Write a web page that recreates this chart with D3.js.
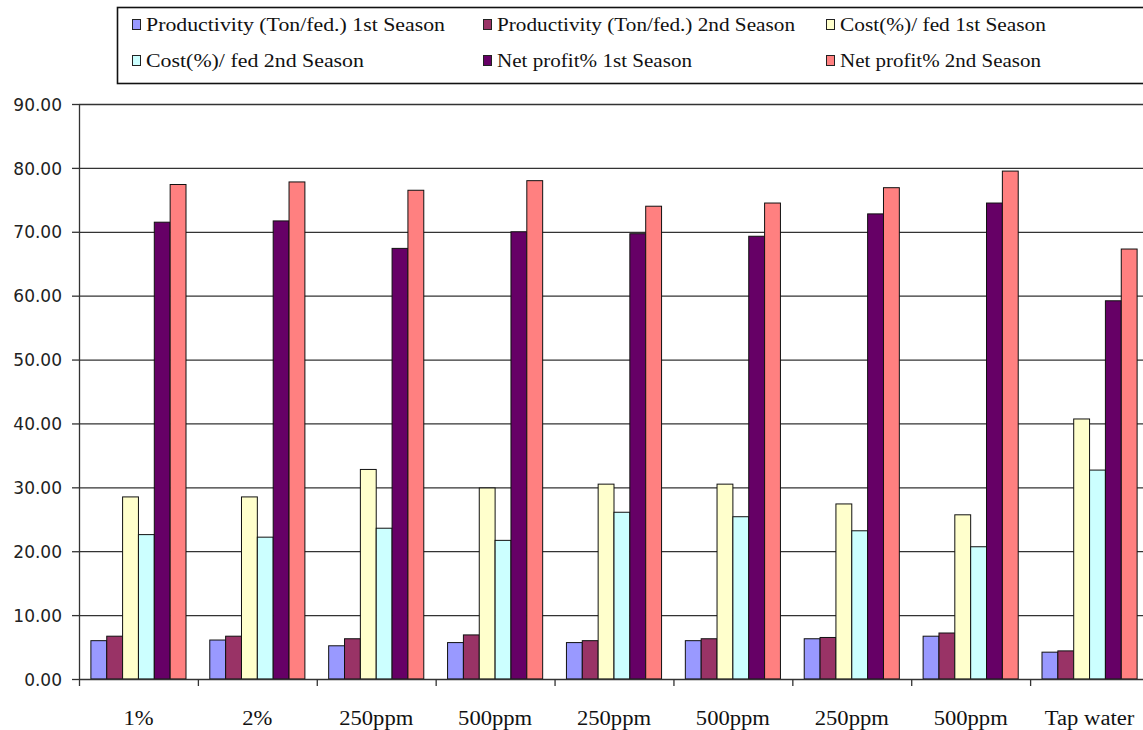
<!DOCTYPE html>
<html>
<head>
<meta charset="utf-8">
<script src="https://cdn.jsdelivr.net/npm/d3@7/dist/d3.min.js"></script>
<style>
html,body{margin:0;padding:0;background:#fff;}
svg{display:block;}
</style>
</head>
<body>
<svg id="chart" width="1143" height="730"></svg>
<script>
const categories = ["1%", "2%", "250ppm", "500ppm", "250ppm", "500ppm", "250ppm", "500ppm", "Tap water"];
const seriesNames = [
  "Productivity (Ton/fed.) 1st Season",
  "Productivity (Ton/fed.) 2nd Season",
  "Cost(%)/ fed 1st Season",
  "Cost(%)/ fed 2nd Season",
  "Net profit% 1st Season",
  "Net profit% 2nd Season"
];
const prod1 = [6.0, 6.1, 5.2, 5.7, 5.7, 6.0, 6.3, 6.7, 4.2];
const prod2 = [6.7, 6.7, 6.3, 6.9, 6.0, 6.3, 6.5, 7.2, 4.4];
const cost1 = [28.5, 28.5, 32.8, 29.9, 30.5, 30.5, 27.4, 25.7, 40.7];
const cost2 = [22.6, 22.2, 23.6, 21.7, 26.1, 25.4, 23.2, 20.7, 32.7];
const net1  = [71.5, 71.7, 67.4, 70.0, 69.7, 69.3, 72.8, 74.5, 59.2];
const net2  = [77.4, 77.8, 76.5, 78.0, 74.0, 74.5, 76.9, 79.5, 67.3];
const yTicks = [0, 10, 20, 30, 40, 50, 60, 70, 80, 90];

const seriesValues = [prod1, prod2, cost1, cost2, net1, net2];
const colors = ["#9999FF", "#993366", "#FFFFCC", "#CCFFFF", "#660066", "#FF8080"];

const svg = d3.select("#chart");
const mLeft = 79, mRight = 1149, mTop = 104, mBottom = 679;

const idx = categories.map((c, i) => i);
const x0 = d3.scaleBand().domain(idx).range([mLeft, mRight]).paddingInner(0).paddingOuter(0);
const bw = x0.bandwidth();
const x1 = d3.scaleBand().domain(d3.range(seriesNames.length)).range([bw * 0.1, bw * 0.9]).padding(0);
const y = d3.scaleLinear().domain([0, 90]).range([mBottom, mTop]);

// gridlines
svg.append("g").selectAll("line").data(yTicks.filter(t => t > 0)).join("line")
  .attr("x1", mLeft).attr("x2", 1143)
  .attr("y1", d => y(d) + 0.5).attr("y2", d => y(d) + 0.5)
  .attr("stroke", "#333").attr("stroke-width", 1.3);

// bars
const groups = svg.append("g").selectAll("g").data(idx).join("g")
  .attr("transform", i => `translate(${x0(i)},0)`);
groups.selectAll("rect").data(i => seriesValues.map((s, k) => ({k, v: s[i]}))).join("rect")
  .attr("x", d => x1(d.k))
  .attr("width", x1.bandwidth())
  .attr("y", d => y(d.v))
  .attr("height", d => y(0) - y(d.v))
  .attr("fill", d => colors[d.k])
  .attr("stroke", "#111").attr("stroke-width", 1);

// y axis
const yAxis = d3.axisLeft(y).tickValues(yTicks).tickSize(7).tickFormat(d3.format(".2f"));
const gy = svg.append("g").attr("transform", `translate(${mLeft},0)`).call(yAxis);
gy.select(".domain").attr("stroke", "#333").attr("stroke-width", 1.3).attr("d", `M0.5,${mTop}V${mBottom + 7}`);
gy.selectAll(".tick line").attr("stroke", "#333").attr("stroke-width", 1.3);
gy.selectAll(".tick text").attr("x", -17).attr("dy", "0.36em")
  .style("font-family", "'DejaVu Sans', Verdana, sans-serif").style("font-size", "17px").attr("fill", "#222");

// x axis
const xAxis = d3.axisBottom(x0).tickSize(0).tickFormat(i => categories[i]);
const gx = svg.append("g").attr("transform", `translate(0,${mBottom})`).call(xAxis);
gx.select(".domain").attr("stroke", "#333").attr("stroke-width", 1.3).attr("d", `M${mLeft},0.5H1143`);
gx.selectAll(".tick text").attr("y", 0).attr("dy", "46px")
  .style("font-family", "'Liberation Serif', 'Times New Roman', serif").style("font-size", "20px").attr("fill", "#111")
  .each(function () {
    const w = this.getComputedTextLength();
    d3.select(this).attr("textLength", w * 1.13).attr("lengthAdjust", "spacingAndGlyphs");
  });
// category boundary ticks
svg.append("g").selectAll("line").data(idx.slice(1)).join("line")
  .attr("x1", i => x0(i) + 0.5).attr("x2", i => x0(i) + 0.5)
  .attr("y1", mBottom).attr("y2", mBottom + 7)
  .attr("stroke", "#333").attr("stroke-width", 1.3);

// legend
const leg = svg.append("g");
leg.append("rect").attr("x", 117.5).attr("y", 7.5).attr("width", 1100).attr("height", 76)
  .attr("fill", "#fff").attr("stroke", "#111").attr("stroke-width", 1.6);
const legPos = [
  {sx: 132, ty: 25, w: 299},
  {sx: 483, ty: 25, w: 298},
  {sx: 826, ty: 25, w: 206},
  {sx: 132, ty: 61, w: 218},
  {sx: 483, ty: 61, w: 195},
  {sx: 826, ty: 61, w: 201}
];
const li = leg.selectAll("g.item").data(seriesNames).join("g").attr("class", "item");
li.append("rect")
  .attr("x", (d, k) => legPos[k].sx + 0.5).attr("y", (d, k) => legPos[k].ty - 5.5)
  .attr("width", 8).attr("height", 10)
  .attr("fill", (d, k) => colors[k]).attr("stroke", "#222").attr("stroke-width", 1);
li.append("text")
  .attr("x", (d, k) => legPos[k].sx + 14).attr("y", (d, k) => legPos[k].ty + 6)
  .attr("textLength", (d, k) => legPos[k].w).attr("lengthAdjust", "spacingAndGlyphs")
  .style("font-family", "'Liberation Serif', 'Times New Roman', serif").style("font-size", "18px")
  .attr("fill", "#111")
  .text(d => d);
</script>
</body>
</html>
